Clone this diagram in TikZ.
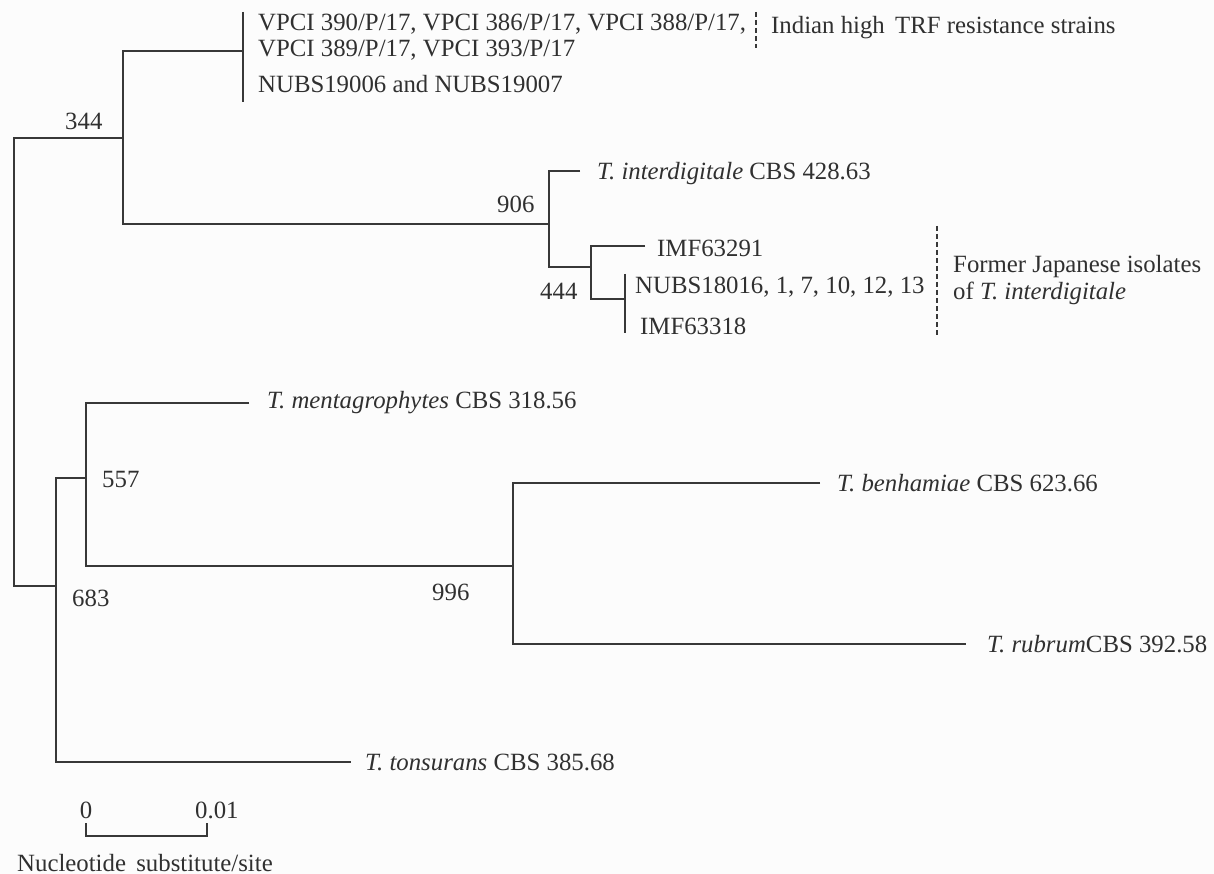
\documentclass[tikz,border=0pt]{standalone}
\usepackage{fontspec}
\setmainfont{Liberation Serif}
\definecolor{linec}{HTML}{383838}
\definecolor{textc}{HTML}{303030}
\definecolor{bgc}{HTML}{FCFCFC}
\begin{document}
\begin{tikzpicture}[x=1pt,y=-1pt,
  branch/.style={draw=linec, line width=2.8pt, line join=miter},
  bracket/.style={draw=linec, line width=2.6pt, dash pattern=on 5pt off 3pt},
  lbl/.style={anchor=base west, inner sep=0pt, text=textc, font=\fontsize{24.8}{30}\selectfont},
  num/.style={lbl}]
\fill[bgc] (0,0) rectangle (1214,874);
\useasboundingbox (0,0) rectangle (1214,874);
% internal nodes
\coordinate (root) at (14,362);
\coordinate (n344) at (123,138);
\coordinate (pVPCI) at (243,51);
\coordinate (pVPCItop) at (243,12);
\coordinate (pVPCIbot) at (243,102);
\coordinate (n906) at (549,224);
\coordinate (tInter) at (580,171);
\coordinate (n444) at (591,267);
\coordinate (tIMF1) at (645,246);
\coordinate (pNUBS) at (625,299);
\coordinate (pNUBStop) at (625,274);
\coordinate (pNUBSbot) at (625,333);
\coordinate (n683) at (56,586);
\coordinate (n557) at (86,478);
\coordinate (tMent) at (249,403);
\coordinate (n996) at (513,566);
\coordinate (tBenh) at (820,483);
\coordinate (tRub) at (966,644);
\coordinate (tTons) at (351,762);
% branches
\draw[branch] (n344) -| (root) |- (n683);
\draw[branch] (pVPCI) -| (n344) |- (n906);
\draw[branch] (pVPCItop) -- (pVPCIbot);
\draw[branch] (tInter) -| (n906) |- (n444);
\draw[branch] (tIMF1) -| (n444) |- (pNUBS);
\draw[branch] (pNUBStop) -- (pNUBSbot);
\draw[branch] (n557) -| (n683) |- (tTons);
\draw[branch] (tMent) -| (n557) |- (n996);
\draw[branch] (tBenh) -| (n996) |- (tRub);
% leaf labels
\node[lbl] (lV1) at (258,31) {VPCI 390/P/17, VPCI 386/P/17, VPCI 388/P/17,};
\node[lbl] (lV2) at (258,57) {VPCI 389/P/17, VPCI 393/P/17};
\node[lbl] (lNU) at (258,93) {NUBS19006 and NUBS19007};
\node[lbl] (lInd) at (771,34) {Indian high\, TRF resistance strains};
\node[lbl] (lInter) at (597,180) {\textit{T. interdigitale} CBS 428.63};
\node[lbl] (lIMF1) at (657,257) {IMF63291};
\node[lbl] (lNUBS) at (635,294) {NUBS18016, 1, 7, 10, 12, 13};
\node[lbl] (lIMF2) at (640,334) {IMF63318};
\node[lbl] (lJap1) at (953,273) {Former Japanese isolates};
\node[lbl] (lJap2) at (953,300) {of \textit{T. interdigitale}};
\node[lbl] (lMent) at (267,408) {\textit{T. mentagrophytes} CBS 318.56};
\node[lbl] (lBenh) at (837,491) {\textit{T. benhamiae} CBS 623.66};
\node[lbl] (lRub) at (987,652) {\textit{T. rubrum}CBS 392.58};
\node[lbl] (lTons) at (365,770) {\textit{T. tonsurans} CBS 385.68};
% bootstrap values
\node[num] (b344) at (65,130) {344};
\node[num] (b906) at (497,213) {906};
\node[num] (b444) at (540,300) {444};
\node[num] (b557) at (102,487) {557};
\node[num] (b683) at (72,606) {683};
\node[num] (b996) at (432,600) {996};
% brackets
\coordinate (dIndTop) at (756,12);
\coordinate (dIndBot) at (756,48);
\draw[bracket] (dIndTop) -- (dIndBot);
\coordinate (dJapTop) at (937,226);
\coordinate (dJapBot) at (937,335);
\draw[bracket] (dJapTop) -- (dJapBot);
% scale bar
\coordinate (s0) at (86,823);
\coordinate (s1) at (207,823);
\draw[draw=linec, line width=2.8pt] (s0) -- ++(0,13) -| (s1);
\node[lbl, anchor=base] (sl0) at (86,818) {0};
\node[lbl] (sl1) at (195,818) {0.01};
\node[lbl] (sunit) at (17,871) {Nucleotide\, substitute/site};
\end{tikzpicture}
\end{document}
